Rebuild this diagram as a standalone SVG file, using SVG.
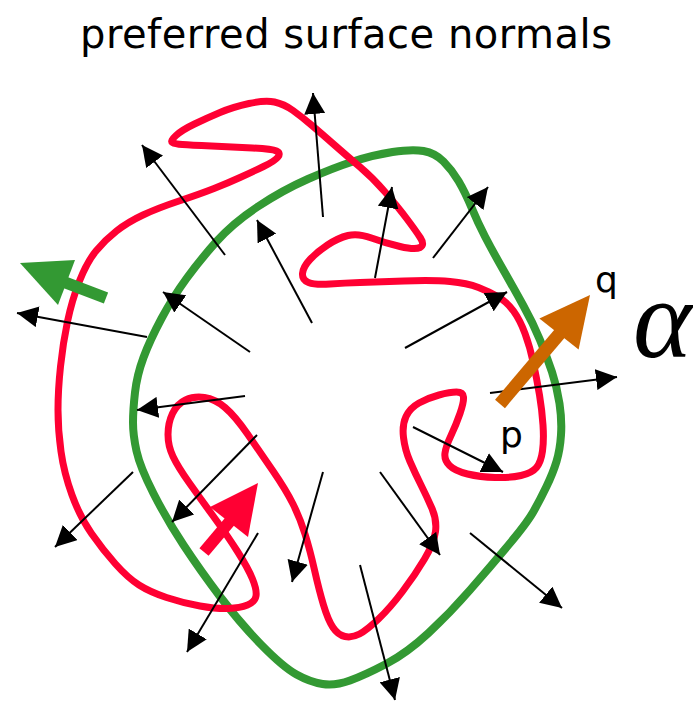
<svg xmlns="http://www.w3.org/2000/svg" width="693" height="702" viewBox="0 0 693 702">
<style>
.lbl{font-family:"DejaVu Sans",Verdana,sans-serif;fill:#000}
.n{stroke:#000;stroke-width:2;fill:none;marker-end:url(#ah)}
.curve{fill:none;stroke-linejoin:round;stroke-linecap:round}
</style>
<defs>
<marker id="ah" viewBox="0 0 21 21" refX="21" refY="10.5" markerWidth="21" markerHeight="21" markerUnits="userSpaceOnUse" orient="auto">
<path d="M0,0 L21,10.5 L0,21 z" fill="#000"/>
</marker>
</defs>
<rect width="693" height="702" fill="#fff"/>
<g id="title"><text class="lbl" x="80" y="48" font-size="40" textLength="532" lengthAdjust="spacing">preferred surface normals</text></g>
<g id="green-contour">
<path class="curve" stroke="#339933" stroke-width="8" d="M133,422.5 Q133,410 135,392.5 Q137,375 143.5,357.5 Q150,340 161.5,318.5 Q173,297 186.5,278.5 Q200,260 216.5,241.5 Q233,223 258,206.5 Q283,190 308,179 Q333,168 353,161.5 Q373,155 392.5,152 Q412,149 423.5,151 Q435,153 443.5,161.5 Q452,170 458.5,181 Q465,192 471.5,207.5 Q478,223 485,236.5 Q492,250 502.5,268.5 Q513,287 523,305 Q533,323 540,340 Q547,357 552,372 Q557,387 559.5,403.5 Q562,420 561,435 Q560,450 556.5,461.5 Q553,473 546.5,486.5 Q540,500 533.5,511.5 Q527,523 508.5,545 Q490,567 470,590 Q450,613 428.5,633 Q407,653 386,664 Q365,675 350,680.5 Q335,686 322.5,684 Q310,682 296.5,674.5 Q283,667 261.5,645 Q240,623 220,596.5 Q200,570 183.5,545 Q167,520 153.5,493.5 Q140,467 136.5,451 Q133,435 133,422.5 Z"/>
</g>
<g id="red-contour">
<path class="curve" stroke="#FF0033" stroke-width="7" d="M172.5,142.5 Q170,141 176,135.5 Q182,130 194.5,124 Q207,118 220,112.5 Q233,107 249,103.5 Q265,100 274.5,102 Q284,104 293,110.5 Q302,117 312,125.5 Q322,134 334.5,145 Q347,156 360,167 Q373,178 385.5,192.5 Q398,207 407,219 Q416,231 420.5,238 Q425,245 420,247.5 Q415,250 400,246.5 Q385,243 371.5,238 Q358,233 348,235.5 Q338,238 327.5,245 Q317,252 310,259.5 Q303,267 302.5,273.5 Q302,280 308.5,282.5 Q315,285 330,284 Q345,283 360,282.5 Q375,282 404,281 Q433,280 450,281.5 Q467,283 478.5,287.5 Q490,292 498.5,297 Q507,302 513.5,311 Q520,320 525,333.5 Q530,347 533.5,363.5 Q537,380 539.5,395 Q542,410 543,425 Q544,440 542.5,451 Q541,462 536.5,467.5 Q532,473 521,475.5 Q510,478 495,477.5 Q480,477 467.5,474 Q455,471 449.5,465.5 Q444,460 445,453 Q446,446 451,435.5 Q456,425 460,413.5 Q464,402 463.5,397 Q463,392 456.5,392 Q450,392 439,395 Q428,398 419,403 Q410,408 406,416.5 Q402,425 403.5,437.5 Q405,450 410,461.5 Q415,473 421,485 Q427,497 432,508.5 Q437,520 435.5,531.5 Q434,543 424.5,559 Q415,575 402.5,591.5 Q390,608 378.5,619 Q367,630 359.5,634 Q352,638 345,636.5 Q338,635 333,627.5 Q328,620 323.5,605 Q319,590 314.5,570 Q310,550 305,534 Q300,518 293,504 Q286,490 273,471 Q260,452 247.5,434 Q235,416 225,407.5 Q215,399 204.5,397.5 Q194,396 185.5,400 Q177,404 172.5,413.5 Q168,423 168,434.5 Q168,446 173,456.5 Q178,467 189,482.5 Q200,498 213.5,516.5 Q227,535 237.5,551.5 Q248,568 252.5,579 Q257,590 256,596 Q255,602 247.5,605 Q240,608 228.5,608.5 Q217,609 200,606 Q183,603 166.5,597.5 Q150,592 139,585 Q128,578 115.5,564 Q103,550 91.5,533.5 Q80,517 72,495 Q64,473 61,451.5 Q58,430 58,410 Q58,390 60.5,366.5 Q63,343 67.5,321.5 Q72,300 79.5,281 Q87,262 96,251 Q105,240 116.5,231 Q128,222 143,215 Q158,208 179,201 Q200,194 214,188.5 Q228,183 240,177.5 Q252,172 263.5,166.5 Q275,161 278,157 Q281,153 276.5,151 Q272,149 252.5,148 Q233,147 211.5,146 Q190,145 182.5,144.5 Q175,144 172.5,142.5 Z"/>
</g>
<g id="normals">
<line class="n" x1="323" y1="217" x2="313" y2="93"/>
<line class="n" x1="225" y1="255" x2="142" y2="145"/>
<line class="n" x1="312" y1="323" x2="257" y2="220"/>
<line class="n" x1="250" y1="352" x2="163" y2="292"/>
<line class="n" x1="147" y1="337" x2="17" y2="313"/>
<line class="n" x1="375" y1="278" x2="392" y2="187"/>
<line class="n" x1="433" y1="258" x2="488" y2="187"/>
<line class="n" x1="405" y1="348" x2="507" y2="292"/>
<line class="n" x1="490" y1="393" x2="617" y2="377"/>
<line class="n" x1="245" y1="396" x2="137" y2="410"/>
<line class="n" x1="257" y1="435" x2="172" y2="522"/>
<line class="n" x1="133" y1="472" x2="55" y2="547"/>
<line class="n" x1="258" y1="533" x2="187" y2="652"/>
<line class="n" x1="323" y1="472" x2="292" y2="582"/>
<line class="n" x1="380" y1="472" x2="440" y2="555"/>
<line class="n" x1="470" y1="533" x2="562" y2="608"/>
<line class="n" x1="360" y1="565" x2="395" y2="700"/>
<line class="n" x1="413" y1="427" x2="503" y2="472"/>
</g>
<g id="green-arrow">
<line x1="106" y1="298" x2="64" y2="282" stroke="#339933" stroke-width="12"/>
<polygon points="20,263 75,260 58,305" fill="#339933"/>
</g>
<g id="red-arrow">
<line x1="204" y1="552" x2="231" y2="520" stroke="#FF0033" stroke-width="12"/>
<polygon points="258,483 210,507 248,537" fill="#FF0033"/>
</g>
<g id="orange-arrow">
<line x1="500" y1="404" x2="561" y2="332" stroke="#CC6600" stroke-width="13"/>
<polygon points="590,295 539.4,318.4 578.6,349.6" fill="#CC6600"/>
</g>
<g id="labels">
<text class="lbl" x="595" y="292" font-size="36">q</text>
<text class="lbl" x="500" y="447" font-size="36">p</text>
<text x="633" y="357" font-size="112" font-style="italic" font-family="'Liberation Serif','DejaVu Serif',serif" fill="#000">α</text>
</g>
</svg>
